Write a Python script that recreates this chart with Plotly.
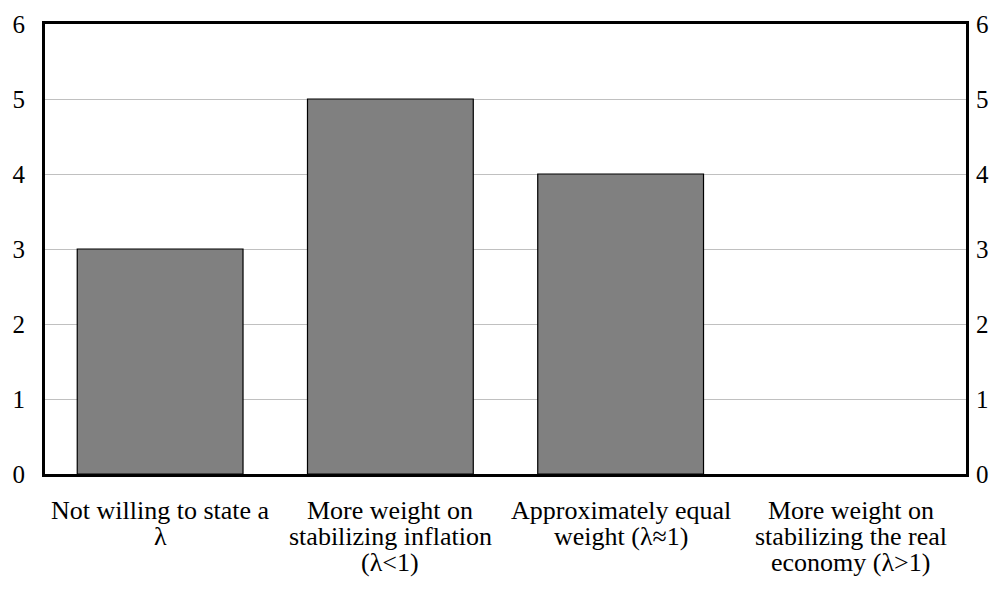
import plotly.graph_objects as go

categories = [
    "Not willing to state a<br>λ",
    "More weight on<br>stabilizing inflation<br>(λ<1)",
    "Approximately equal<br>weight (λ≈1)",
    "More weight on<br>stabilizing the real<br>economy (λ>1)",
]
values = [3, 5, 4, 0]
y_ticks = [0, 1, 2, 3, 4, 5, 6]

family = "Liberation Serif, Times New Roman, serif"
tick_font = dict(family=family, size=25, color="black")
label_font = dict(family=family, size=26, color="black")

fig = go.Figure()
fig.add_trace(go.Bar(
    x=categories, y=values,
    marker=dict(color="#808080",
                line=dict(color="black", width=[1.2 if v > 0 else 0 for v in values])),
    width=0.72,
))
fig.add_trace(go.Scatter(x=categories, y=values, yaxis="y2", mode="markers",
                         marker=dict(opacity=0), hoverinfo="skip", showlegend=False))

# category labels, one annotation per text line (tight line spacing)
for cat in categories:
    for j, line in enumerate(cat.split("<br>")):
        fig.add_annotation(x=cat, xref="x", y=0, yref="paper", text=line,
                           showarrow=False, yanchor="middle", yshift=-(36 + 26 * j),
                           font=label_font)

fig.update_layout(
    width=990, height=584,
    margin=dict(l=37, r=32, t=16, b=118),
    plot_bgcolor="white", paper_bgcolor="white",
    showlegend=False,
    xaxis=dict(showline=True, linecolor="black", linewidth=3, mirror=True,
               ticks="", showticklabels=False, showgrid=False, automargin=False),
    yaxis=dict(range=[0, 6], tickvals=y_ticks, showgrid=True, gridcolor="#c0c0c0",
               gridwidth=1, showline=True, linecolor="black", linewidth=3, mirror=True,
               ticks="", ticklabelstandoff=12, tickfont=tick_font, zeroline=False,
               automargin=False),
    yaxis2=dict(range=[0, 6], tickvals=y_ticks, overlaying="y", side="right",
                showgrid=False, showline=False, ticks="", ticklabelstandoff=9,
                tickfont=tick_font, zeroline=False, automargin=False),
)

fig.write_html("out.html")
